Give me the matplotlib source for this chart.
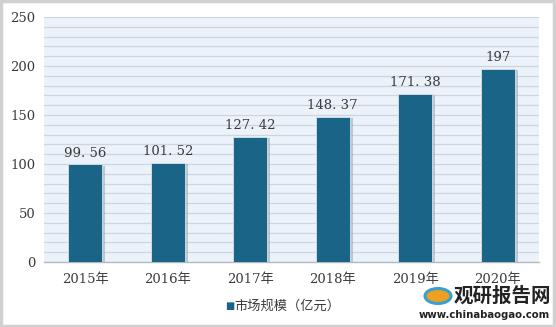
import matplotlib
matplotlib.use("Agg")
import matplotlib.pyplot as plt
from matplotlib.patches import Rectangle, Ellipse
import numpy as np

plt.rcParams['font.family'] = ['DejaVu Serif', 'Noto Sans CJK SC']

categories = ['2015年', '2016年', '2017年', '2018年', '2019年', '2020年']
values = [99.56, 101.52, 127.42, 148.37, 171.38, 197]
value_labels = ['99.56', '101.52', '127.42', '148.37', '171.38', '197']
yticks = [0, 50, 100, 150, 200, 250]
series_name = '市场规模（亿元）'

W, H = 556, 327
fig = plt.figure(figsize=(W/100, H/100), dpi=100)
fig.patch.set_facecolor('white')
# outer frame
fig.add_artist(Rectangle((0.002, 0.003), 0.995, 0.993, transform=fig.transFigure,
                         fill=False, edgecolor='#d0d0d0', linewidth=2.5))

ax = fig.add_axes([44/W, 1-262/H, (539-44)/W, (262-17)/H])
ax.set_facecolor('#ebf2f9')
x = np.arange(len(categories))
ax.set_xlim(-0.5, len(categories)-0.5)
ax.set_ylim(0, 250)
for yv in np.arange(10, 251, 10):
    ax.axhline(yv, color='#cdd5de', linewidth=0.9, zorder=1)

bar_color = '#1a6487'
w = 0.41
# shadow
ax.bar(x + 0.035, np.array(values) - 1.2, width=w, color='#9aa3ad', alpha=0.55, zorder=2)
ax.bar(x, values, width=w, color=bar_color, edgecolor='#d7e4ee', linewidth=0.6, zorder=3)
for xi, v, lab in zip(x, values, value_labels):
    ax.text(xi, v + 5, lab.replace('.', '. '), ha='center', va='bottom', fontsize=9.5,
            color='#3a3a3a', zorder=4)

ax.set_yticks(yticks)
ax.set_yticklabels([str(t) for t in yticks], fontsize=9.5, color='#3a3a3a')
ax.set_xticks(x)
ax.set_xticklabels(categories, fontsize=9.5, color='#3a3a3a')
ax.tick_params(length=0, pad=8)
ax.tick_params(axis='y', pad=6)
for s in ['top', 'right', 'left']:
    ax.spines[s].set_visible(False)
ax.spines['bottom'].set_color('#b0b8c0')
ax.spines['bottom'].set_linewidth(1.0)

# legend
fig.text(225/W, 1-306/H, '■', fontsize=7, color=bar_color, va='center', ha='left',
         family=['DejaVu Sans'])
fig.text(234/W, 1-306/H, series_name, fontsize=9.5, color='#3a3a3a', va='center', ha='left',
         family=['Noto Sans CJK SC'])

# watermark
fig.add_artist(Ellipse((438/W, 1-296/H), 26/W, 15/H,
               transform=fig.transFigure, facecolor='#f0a020', edgecolor='#3aa0d0', linewidth=2.2))
fig.text(502/W, 1-296/H, '观研报告网', fontsize=14, fontweight='bold', color='#222222',
         va='center', ha='center', family=['Noto Sans CJK SC'])
fig.text(484/W, 1-315/H, 'www.chinabaogao.com', fontsize=7.3, fontweight='bold',
         color='#222222', va='center', ha='center', family=['DejaVu Sans'])

fig.savefig('out.png', dpi=100)
